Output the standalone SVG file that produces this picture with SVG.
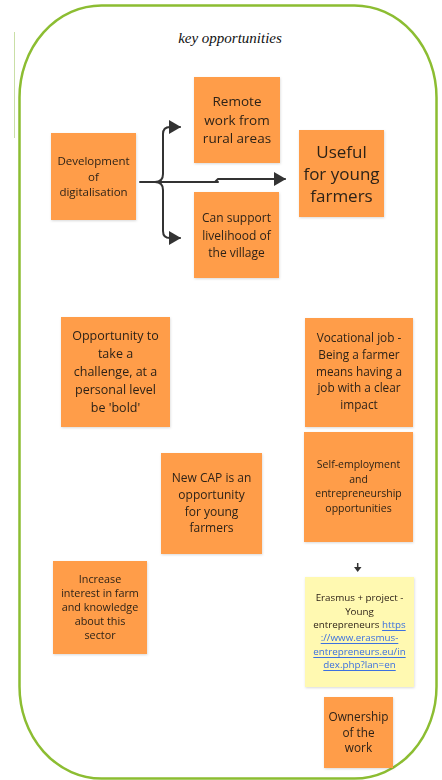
<svg xmlns="http://www.w3.org/2000/svg" width="442" height="780" viewBox="0 0 442 780">
<style>
.n{fill:#ff9d48}
.y{fill:#fff9b1}
.t{font-family:"Open Sans","Liberation Sans",sans-serif;fill:#2e2319;text-anchor:middle;dominant-baseline:central}
.c{fill:none;stroke:#333;stroke-width:2;stroke-linecap:round;stroke-linejoin:round}
.lk{fill:#3a6fe0;text-decoration:underline}
</style>
<defs>
<marker id="ah" viewBox="0 0 12 14" refX="11" refY="7" markerWidth="12" markerHeight="14" markerUnits="userSpaceOnUse" orient="auto">
<path d="M0,0 L12,7 L0,14 Z" fill="#333"/>
</marker>
<filter id="sh" x="-10%" y="-10%" width="130%" height="130%">
<feDropShadow dx="0.5" dy="1" stdDeviation="0.8" flood-color="#000" flood-opacity="0.15"/>
</filter>
</defs>
<rect width="442" height="780" fill="#fff"/>
<line x1="14.5" y1="32" x2="14.5" y2="138" stroke="#c9dfa6" stroke-width="1"/>
<rect x="19.5" y="5.5" width="417" height="773" rx="82" ry="92" fill="none" stroke="#8cbd32" stroke-width="2.5"/>
<text x="230" y="38" font-family="Liberation Serif,serif" font-style="italic" font-size="15" fill="#111" text-anchor="middle" dominant-baseline="central">key opportunities</text>

<g id="connectors">
<path class="c" d="M140,182 L218,182"/>
<path class="c" d="M155,182 Q163,182 163,174 L163,134 Q163,127 170,127 L180,127" marker-end="url(#ah)"/>
<path class="c" d="M155,182 Q163,182 163,190 L163,231 Q163,238 170,238 L180,238" marker-end="url(#ah)"/>
<path class="c" d="M163,182 L215,182 L218,179 L285,179" marker-end="url(#ah)"/>
<path d="M357.7,563 L357.7,568" stroke="#333" stroke-width="1.5"/>
<path d="M354,567 L361.5,567 L357.7,572 Z" fill="#333"/>
</g>

<g id="n1" filter="url(#sh)"><rect class="n" x="51" y="133" width="85" height="87"/>
<text class="t" font-size="11.5"><tspan x="93.5" y="160">Development</tspan><tspan x="93.5" y="176">of</tspan><tspan x="93.5" y="191">digitalisation</tspan></text></g>

<g id="n2" filter="url(#sh)"><rect class="n" x="194" y="77" width="86" height="86"/>
<text class="t" font-size="13.5"><tspan x="237" y="101">Remote</tspan><tspan x="237" y="119.5">work from</tspan><tspan x="237" y="138">rural areas</tspan></text></g>

<g id="n3" filter="url(#sh)"><rect class="n" x="299" y="130" width="85" height="87"/>
<text class="t" font-size="17"><tspan x="341.5" y="151">Useful</tspan><tspan x="341.5" y="173">for young</tspan><tspan x="341.5" y="195">farmers</tspan></text></g>

<g id="n4" filter="url(#sh)"><rect class="n" x="194" y="192" width="85" height="86"/>
<text class="t" font-size="12"><tspan x="236.5" y="217">Can support</tspan><tspan x="236.5" y="234.5">livelihood of</tspan><tspan x="236.5" y="252">the village</tspan></text></g>

<g id="n5" filter="url(#sh)"><rect class="n" x="61" y="317" width="109" height="110"/>
<text class="t" font-size="12.5"><tspan x="115.5" y="335">Opportunity to</tspan><tspan x="115.5" y="353">take a</tspan><tspan x="115.5" y="371">challenge, at a</tspan><tspan x="115.5" y="389">personal level</tspan><tspan x="115.5" y="407">be 'bold'</tspan></text></g>

<g id="n6" filter="url(#sh)"><rect class="n" x="305" y="318" width="108" height="109"/>
<text class="t" font-size="11.8"><tspan x="359" y="337">Vocational job -</tspan><tspan x="359" y="354">Being a farmer</tspan><tspan x="359" y="371">means having a</tspan><tspan x="359" y="387">job with a clear</tspan><tspan x="359" y="404">impact</tspan></text></g>

<g id="n7" filter="url(#sh)"><rect class="n" x="304" y="432" width="109" height="110"/>
<text class="t" font-size="10.5"><tspan x="358.5" y="464">Self-employment</tspan><tspan x="358.5" y="478.5">and</tspan><tspan x="358.5" y="493">entrepreneurship</tspan><tspan x="358.5" y="508">opportunities</tspan></text></g>

<g id="n8" filter="url(#sh)"><rect class="n" x="161" y="453" width="101" height="101"/>
<text class="t" font-size="12"><tspan x="211.5" y="477">New CAP is an</tspan><tspan x="211.5" y="494">opportunity</tspan><tspan x="211.5" y="511">for young</tspan><tspan x="211.5" y="527">farmers</tspan></text></g>

<g id="n9" filter="url(#sh)"><rect class="n" x="53" y="561" width="94" height="93"/>
<text class="t" font-size="10.8"><tspan x="100" y="578">Increase</tspan><tspan x="100" y="592">interest in farm</tspan><tspan x="100" y="606">and knowledge</tspan><tspan x="100" y="620">about this</tspan><tspan x="100" y="634">sector</tspan></text></g>

<g id="n10" filter="url(#sh)"><rect class="y" x="305" y="577" width="109" height="110"/>
<text class="t" font-size="9.8"><tspan x="359.5" y="597">Erasmus + project -</tspan><tspan x="359.5" y="611">Young</tspan><tspan x="359.5" y="624">entrepreneurs <tspan class="lk">https</tspan></tspan><tspan x="359.5" y="637" class="lk">://www.erasmus-</tspan><tspan x="359.5" y="651" class="lk">entrepreneurs.eu/in</tspan><tspan x="359.5" y="664" class="lk">dex.php?lan=en</tspan></text></g>

<g id="n11" filter="url(#sh)"><rect class="n" x="324" y="697" width="69" height="71"/>
<text class="t" font-size="11.8"><tspan x="358.5" y="716">Ownership</tspan><tspan x="358.5" y="731.5">of the</tspan><tspan x="358.5" y="747">work</tspan></text></g>
</svg>
